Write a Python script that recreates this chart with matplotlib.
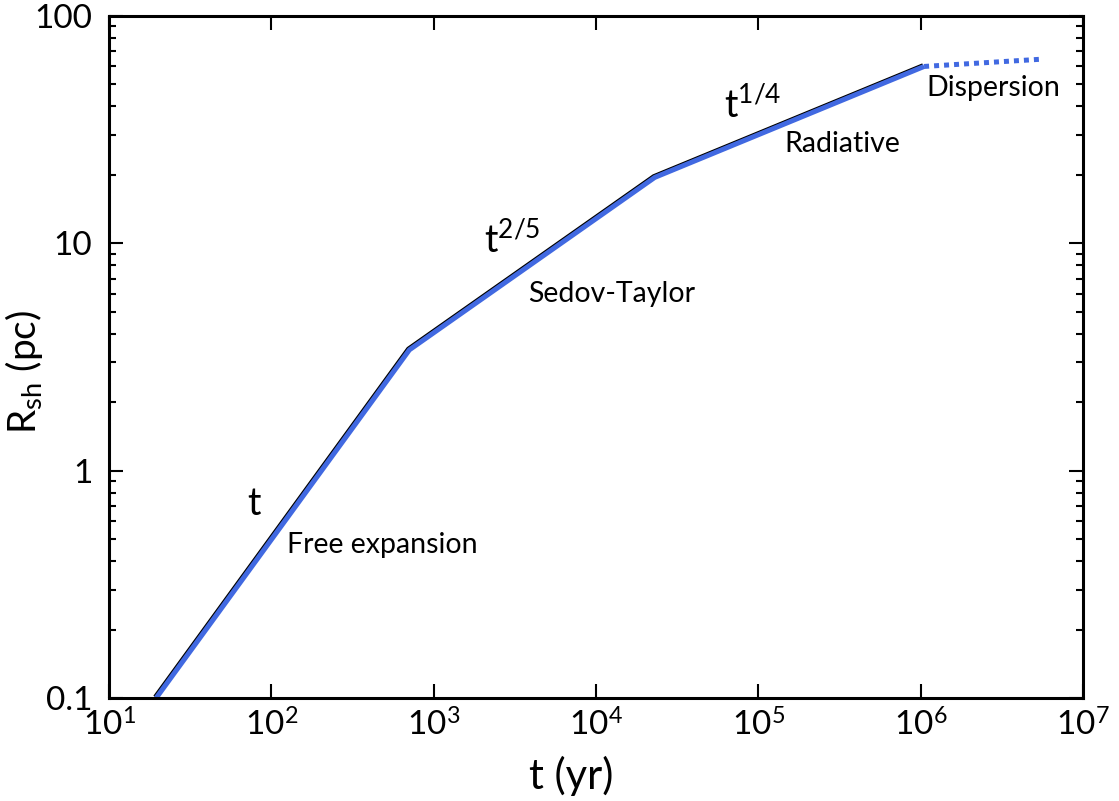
import matplotlib
matplotlib.use('Agg')
import matplotlib.pyplot as plt
import matplotlib.ticker as mticker
import matplotlib.transforms as mtrans

plt.rcParams['font.family'] = ['Lato', 'DejaVu Sans']
plt.rcParams['mathtext.fontset'] = 'custom'
plt.rcParams['mathtext.rm'] = 'Lato'
plt.rcParams['mathtext.it'] = 'Lato'

# solid part of the shock radius evolution
t_solid = [19.5, 708, 2.3e4, 1.05e6]
r_solid = [0.1, 3.4, 19.5, 60]
# dispersion phase (dotted)
t_disp = [1.05e6, 5.6e6]
r_disp = [60, 64.6]

xticks = [1e1, 1e2, 1e3, 1e4, 1e5, 1e6, 1e7]
yticks = [0.1, 1, 10, 100]

labels = ['t', 'Free expansion', r'$\mathregular{t^{2/5}}$', 'Sedov-Taylor',
          r'$\mathregular{t^{1/4}}$', 'Radiative', 'Dispersion']
label_t = [78, 482, 3055, 1.245e4, 9.2e4, 3.3e5, 2.82e6]
label_r = [0.638, 0.434, 9.06, 5.52, 35.6, 25.2, 44.5]
label_size = [27, 20.5, 27, 20.5, 27, 20.5, 20.5]

fig = plt.figure(figsize=(11.19, 8.01), dpi=100)
ax = fig.add_axes([0.0975, 0.1286, 0.8703, 0.8514])

blue = '#4169e1'
shadow = mtrans.offset_copy(ax.transData, fig=fig, x=-1, y=1, units='dots')
ax.plot(t_solid, r_solid, color='black', lw=3.2, transform=shadow, solid_capstyle='butt')
ax.plot(t_solid, r_solid, color=blue, lw=3.6, solid_capstyle='butt')
ax.plot(t_disp, r_disp, color=blue, lw=3.6, linestyle=(0, (1, 1)))

for txt, x, y, s in zip(labels, label_t, label_r, label_size):
    ax.text(x, y, txt, fontsize=s, ha='center', va='baseline')

ax.set_xscale('log')
ax.set_yscale('log')
ax.set_xlim(10, 1e7)
ax.set_ylim(0.1, 100)

ax.xaxis.set_major_locator(mticker.FixedLocator(xticks))
ax.xaxis.set_major_formatter(mticker.LogFormatterSciNotation())
ax.xaxis.set_minor_locator(mticker.NullLocator())
ax.yaxis.set_major_locator(mticker.FixedLocator(yticks))
ax.yaxis.set_major_formatter(mticker.FuncFormatter(lambda v, p: '{:g}'.format(v)))
ax.yaxis.set_minor_locator(mticker.LogLocator(subs=range(2, 10)))
ax.yaxis.set_minor_formatter(mticker.NullFormatter())

ax.tick_params(which='both', direction='in', top=True, right=True, labelsize=24, width=1.5)
ax.tick_params(which='major', length=10)
ax.tick_params(which='minor', length=5)
ax.tick_params(axis='y', which='major', pad=12)
ax.tick_params(axis='x', which='major', pad=8)
for sp in ax.spines.values():
    sp.set_linewidth(2.2)

ax.set_xlabel('t (yr)', fontsize=30)
ax.set_ylabel(r'R$_{\mathregular{sh}}$ (pc)', fontsize=28)
ax.xaxis.set_label_coords(0.474, -0.085)
ax.yaxis.set_label_coords(-0.066, 0.478)

fig.savefig('out.png', dpi=100)
